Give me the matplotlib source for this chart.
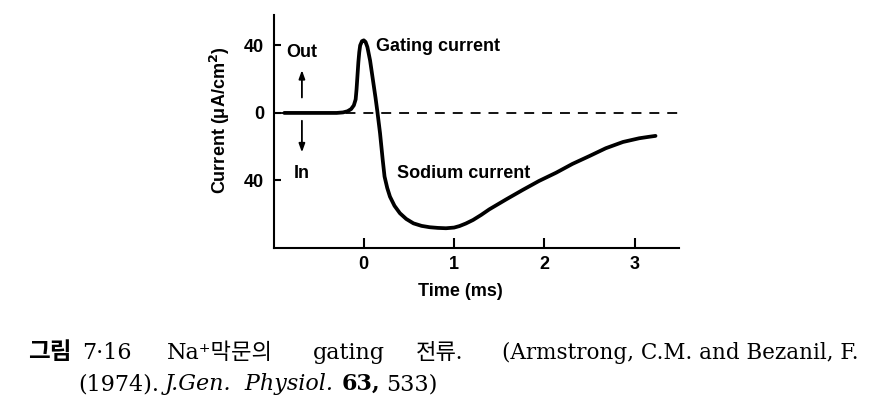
import numpy as np
import matplotlib
matplotlib.use("Agg")
import matplotlib.pyplot as plt

# time (ms) and current (uA/cm^2)
time_ms = [-0.88, -0.6, -0.3, -0.23, -0.18, -0.14, -0.11, -0.09, -0.08, -0.07,
           -0.06, -0.05, -0.04, -0.02, 0.0, 0.02, 0.04, 0.07, 0.1, 0.13,
           0.15, 0.18, 0.21, 0.23, 0.26, 0.29, 0.34, 0.40, 0.47, 0.55,
           0.64, 0.73, 0.82, 0.91, 1.0, 1.06, 1.13, 1.21, 1.3, 1.39,
           1.58, 1.76, 1.94, 2.13, 2.31, 2.50, 2.68, 2.87, 3.05, 3.15, 3.23]
current = [0, 0, 0, 0.3, 1.0, 2.3, 4.5, 8, 14, 22,
           30, 36, 40, 42.5, 43, 42, 39, 31, 20, 9,
           1, -12, -28, -37.7, -44.5, -49.6, -55, -59.4, -62.8, -65.4,
           -66.9, -67.7, -68.1, -68.3, -67.9, -67, -65.5, -63.4, -60.4, -57.1,
           -51.1, -45.6, -40.3, -35.4, -30.2, -25.5, -20.9, -17.2, -15, -14.2, -13.6]

x_ticks = [0, 1, 2, 3]
y_ticks = [40, 0, -40]
y_tick_labels = ["40", "0", "40"]

SANS = "Liberation Sans"
SERIF = ["DejaVu Serif", "Noto Sans CJK KR"]
CJK = ["Noto Sans CJK KR", "DejaVu Serif"]
FS = 13

fig = plt.figure(figsize=(8.93, 3.96), dpi=100)
ax = fig.add_axes([274 / 893, 1 - 248 / 396, (679 - 274) / 893, (248 - 15) / 396])

ax.axhline(0, color="black", lw=1.3, ls=(0, (5.5, 4.4)), zorder=1)
ax.plot(time_ms, current, color="black", lw=2.7, solid_capstyle="round",
        solid_joinstyle="round", zorder=3)

ax.set_xlim(-0.994, 3.49)
ax.set_ylim(-80, 58)
for s in ["top", "right"]:
    ax.spines[s].set_visible(False)
for s in ["left", "bottom"]:
    ax.spines[s].set_linewidth(1.5)

ax.set_xticks(x_ticks)
ax.set_yticks(y_ticks)
ax.set_yticklabels(y_tick_labels)
ax.tick_params(axis="x", direction="in", length=7, width=1.5, pad=6)
ax.tick_params(axis="y", direction="in", length=5, width=1.5, pad=7)
for lab in ax.get_xticklabels() + ax.get_yticklabels():
    lab.set_fontfamily(SANS)
    lab.set_fontweight("bold")
    lab.set_fontsize(FS)

ax.set_xlabel("Time (ms)", fontfamily=SANS, fontweight="bold", fontsize=FS)
ax.set_ylabel("Current (μA/cm$^\\mathbf{2}$)", fontfamily=SANS, fontweight="bold",
              fontsize=FS)
ax.xaxis.set_label_coords(0.459, -0.15)
ax.yaxis.set_label_coords(-0.104, 0.549)

txt = dict(fontfamily=SANS, fontweight="bold", fontsize=FS)
ax.text(-0.685, 35.5, "Out", ha="center", va="center", **txt)
ax.text(-0.685, -35.6, "In", ha="center", va="center", **txt)
ax.text(0.13, 39.5, "Gating current", ha="left", va="center", **txt)
ax.text(0.37, -35.7, "Sodium current", ha="left", va="center", **txt)

arrow = dict(arrowstyle="-|>,head_length=0.5,head_width=0.18", color="black", lw=1.3)
ax.annotate("", xy=(-0.685, 27), xytext=(-0.685, 7.5), arrowprops=arrow)
ax.annotate("", xy=(-0.685, -25), xytext=(-0.685, -3), arrowprops=arrow)

# caption
renderer = fig.canvas.get_renderer()


def ftext(xp, yp, s, **kw):
    t = fig.text(xp / 893, 1 - yp / 396, s, va="baseline", ha="left", **kw)
    bb = t.get_window_extent(renderer)
    return bb.x1


cap = dict(fontsize=16)
ftext(28, 359, "그림", fontfamily=CJK, fontweight="bold", fontsize=17)
ftext(82, 359, "7·16", fontfamily=SERIF, **cap)
ftext(167, 359, "Na⁺막문의", fontfamily=SERIF, **cap)
ftext(313, 359, "gating", fontfamily=SERIF, **cap)
ftext(416, 359, "전류.", fontfamily=CJK, **cap)
ftext(502, 359, "(Armstrong, C.M. and Bezanil, F.", fontfamily=SERIF, fontsize=15.5)

x = ftext(78, 390, "(1974).", fontfamily=SERIF, **cap)
x = ftext(x + 6, 390, "J.Gen.  Physiol.", fontfamily=SERIF, style="italic", **cap)
x = ftext(x + 8, 390, "63,", fontfamily=SERIF, fontweight="bold", **cap)
ftext(x + 6, 390, "533)", fontfamily=SERIF, **cap)

plt.savefig("out.png", dpi=100)
